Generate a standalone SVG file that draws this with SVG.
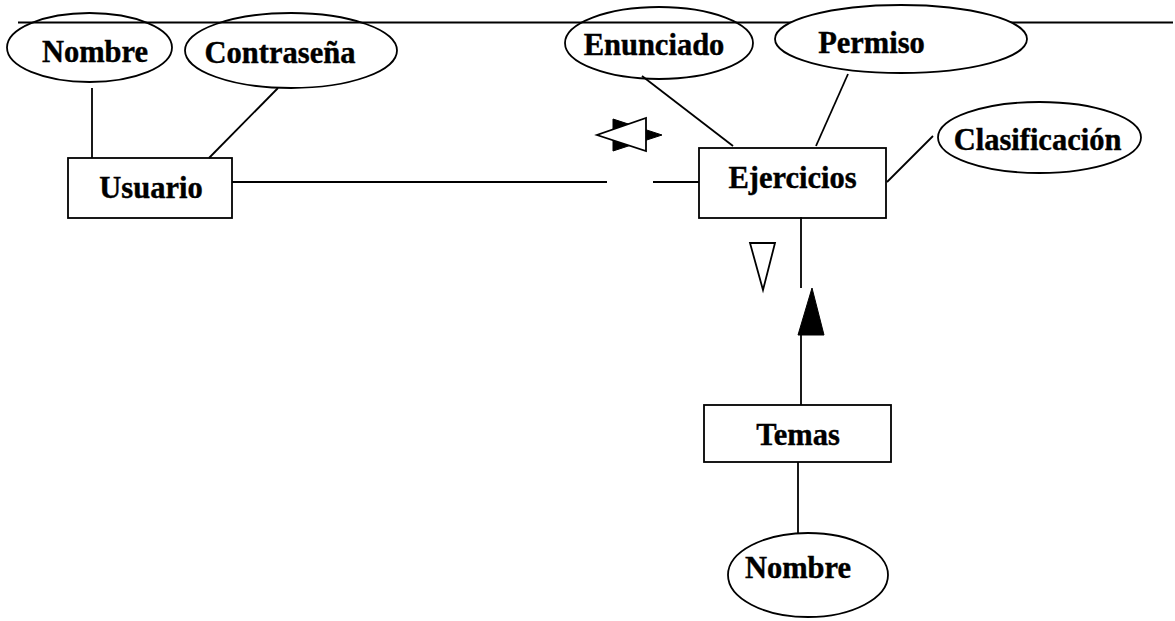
<svg xmlns="http://www.w3.org/2000/svg" width="1175" height="621" viewBox="0 0 1175 621">
<style>
.s{fill:none;stroke:#000;stroke-width:1.8}
.w{fill:#fff;stroke:#000;stroke-width:1.8}
.t{font-family:"Liberation Serif","Times New Roman",serif;font-weight:bold;font-size:30.5px;fill:#000;stroke:#000;stroke-width:0.4;text-anchor:middle}
</style>
<rect width="1175" height="621" fill="#fff"/>
<g id="connectors">
<line class="s" x1="18" y1="22.5" x2="1173" y2="22.5"/>
<line class="s" x1="92" y1="88" x2="92" y2="158"/>
<line class="s" x1="278" y1="88" x2="209" y2="158"/>
<line class="s" x1="232" y1="182" x2="607" y2="182"/>
<line class="s" x1="653" y1="182" x2="699" y2="182"/>
<line class="s" x1="642" y1="76" x2="733" y2="146"/>
<line class="s" x1="848" y1="74" x2="816" y2="146"/>
<line class="s" x1="933" y1="136" x2="887" y2="182"/>
<line class="s" x1="801" y1="217" x2="801" y2="288"/>
<line class="s" x1="801" y1="335" x2="801" y2="405"/>
<line class="s" x1="798" y1="462" x2="798" y2="533"/>
<polygon points="613,119 613,151 662,135" fill="#000" stroke="#000" stroke-width="1"/>
<polygon class="w" points="646,118 646,151 597,135"/>
<polygon class="w" points="750,243 775,243 763,290"/>
<polygon points="812,288 798,335 824,335" fill="#000" stroke="#000" stroke-width="1"/>
</g>
<g id="attr-nombre-usuario">
<ellipse class="s" cx="89.5" cy="47.5" rx="82.5" ry="34.5"/>
<text class="t" x="95" y="62">Nombre</text>
</g>
<g id="attr-contrasena">
<ellipse class="s" cx="291" cy="50.5" rx="106" ry="37.5"/>
<text class="t" x="280" y="63">Contraseña</text>
</g>
<g id="usuario">
<rect class="s" x="68" y="158" width="164" height="60"/>
<text class="t" x="151" y="197.5">Usuario</text>
</g>
<g id="attr-enunciado">
<ellipse class="s" cx="659" cy="43" rx="94" ry="36"/>
<text class="t" x="654" y="55">Enunciado</text>
</g>
<g id="attr-permiso">
<ellipse class="w" cx="901" cy="39" rx="126" ry="34"/>
<text class="t" x="871.5" y="53">Permiso</text>
</g>
<g id="ejercicios">
<rect class="s" x="699" y="148" width="187" height="70"/>
<text class="t" x="792.5" y="188">Ejercicios</text>
</g>
<g id="attr-clasificacion">
<ellipse class="s" cx="1039.5" cy="137.5" rx="101.5" ry="35.5"/>
<text class="t" x="1037.5" y="150">Clasificación</text>
</g>
<g id="temas">
<rect class="s" x="704" y="405" width="187" height="57"/>
<text class="t" x="798" y="445">Temas</text>
</g>
<g id="attr-nombre-temas">
<ellipse class="s" cx="808" cy="575" rx="80" ry="42"/>
<text class="t" x="798" y="578">Nombre</text>
</g>
</svg>
